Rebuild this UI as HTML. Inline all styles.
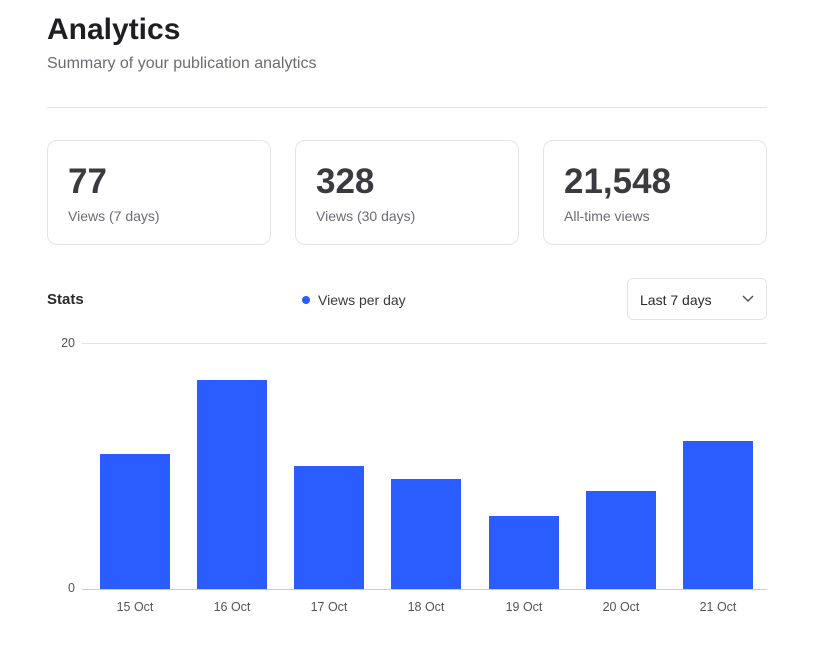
<!DOCTYPE html>
<html><head><meta charset="utf-8"><style>
body{margin:0;background:#fff;font-family:"Liberation Sans",sans-serif;width:837px;height:650px;position:relative;overflow:hidden}
.a{position:absolute}
h1{position:absolute;left:47px;top:13px;margin:0;font-size:30px;font-weight:600;color:#1f1f23}
.sub{left:47px;top:55px;font-size:16px;color:#6b6b74}
.hr{left:47px;top:107px;width:720px;height:1px;background:#e4e4e7}
.card{top:140px;width:224px;height:105px;border:1px solid #e4e4e7;border-radius:10px;box-sizing:border-box}
.card .n{position:absolute;left:20px;top:21px;font-size:35px;font-weight:700;color:#3a3a40}
.card .l{position:absolute;left:20px;top:67px;font-size:14px;color:#6b6b74}
</style></head><body>
<h1>Analytics</h1>
<div class="a sub">Summary of your publication analytics</div>
<div class="a hr"></div>
<div class="a card" style="left:47px"><div class="n">77</div><div class="l">Views (7 days)</div></div>
<div class="a card" style="left:295px"><div class="n">328</div><div class="l">Views (30 days)</div></div>
<div class="a card" style="left:543px"><div class="n">21,548</div><div class="l">All-time views</div></div>
<div class="a" style="left:47px;top:291px;font-size:15px;font-weight:600;color:#2a2a30">Stats</div>
<div class="a" style="left:302px;top:296px;width:8px;height:8px;border-radius:50%;background:#2a5cff"></div>
<div class="a" style="left:318px;top:292px;font-size:14px;color:#3a3a40">Views per day</div>
<div class="a" style="left:627px;top:278px;width:140px;height:42px;border:1px solid #e4e4e7;border-radius:6px;box-sizing:border-box"><span style="position:absolute;left:12px;top:13px;font-size:14px;color:#2a2a30">Last 7 days</span>
<svg style="position:absolute;left:114px;top:16px" width="12" height="8"><path d="M1 1 L6 6 L11 1" fill="none" stroke="#555" stroke-width="1.5"/></svg></div>
<svg class="a" style="left:0;top:0" width="837" height="650">
<line x1="82" y1="343.5" x2="767" y2="343.5" stroke="#e4e4e7"/>
<line x1="82" y1="589.5" x2="767" y2="589.5" stroke="#ccc"/>
<text x="75" y="347" font-size="12.5" fill="#555" text-anchor="end" font-family="Liberation Sans">20</text>
<text x="75" y="592" font-size="12.5" fill="#555" text-anchor="end" font-family="Liberation Sans">0</text>
<g fill="#2a5cff">
<rect x="100" y="454" width="70" height="135"/>
<rect x="197" y="380" width="70" height="209"/>
<rect x="294" y="466" width="70" height="123"/>
<rect x="391" y="479" width="70" height="110"/>
<rect x="489" y="516" width="70" height="73"/>
<rect x="586" y="491" width="70" height="98"/>
<rect x="683" y="441" width="70" height="148"/>
</g>
<g font-size="12.5" fill="#555" text-anchor="middle" font-family="Liberation Sans">
<text x="135" y="611">15 Oct</text><text x="232" y="611">16 Oct</text><text x="329" y="611">17 Oct</text><text x="426" y="611">18 Oct</text><text x="524" y="611">19 Oct</text><text x="621" y="611">20 Oct</text><text x="718" y="611">21 Oct</text>
</g></svg>
</body></html>
